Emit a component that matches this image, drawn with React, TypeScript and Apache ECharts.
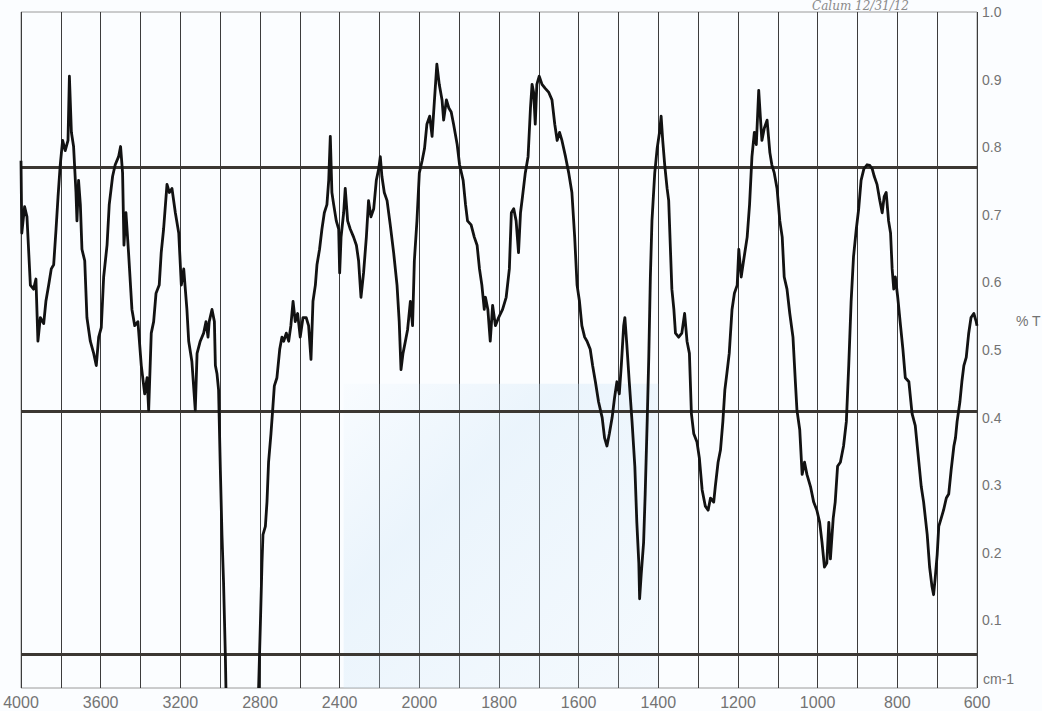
import React, { useEffect, useRef } from 'react';
import * as echarts from 'echarts';

// Wavenumber tick labels (cm-1), scale changes at 2000 cm-1
const xTickLabels = [4000, 3600, 3200, 2800, 2400, 2000, 1800, 1600, 1400, 1200, 1000, 800, 600];

// [wavenumber cm-1, transmittance] — O–H / C–H region (goes off-scale near 2970)
const segHighA: [number, number][] = [
  [4000, 0.78], [3996, 0.673], [3982, 0.712], [3970, 0.697], [3953, 0.596], [3937, 0.59], [3925, 0.605],
  [3915, 0.513], [3903, 0.548], [3886, 0.539], [3875, 0.572], [3861, 0.596], [3848, 0.62], [3836, 0.626],
  [3824, 0.679], [3814, 0.727], [3803, 0.774], [3791, 0.81], [3778, 0.795], [3764, 0.81], [3757, 0.905],
  [3747, 0.822], [3736, 0.801], [3724, 0.733], [3719, 0.691], [3711, 0.751], [3702, 0.715], [3694, 0.649],
  [3680, 0.632], [3669, 0.548], [3652, 0.513], [3635, 0.495], [3622, 0.477], [3610, 0.519], [3597, 0.533],
  [3585, 0.608], [3568, 0.655], [3557, 0.715], [3540, 0.757], [3527, 0.774], [3510, 0.786], [3500, 0.801],
  [3490, 0.762], [3483, 0.655], [3473, 0.703], [3460, 0.644], [3443, 0.56], [3429, 0.536], [3413, 0.542],
  [3396, 0.477], [3379, 0.435], [3367, 0.459], [3359, 0.411], [3346, 0.525], [3334, 0.542], [3322, 0.584],
  [3306, 0.596], [3296, 0.644], [3284, 0.679], [3267, 0.745], [3255, 0.733], [3242, 0.739], [3225, 0.703],
  [3208, 0.673], [3195, 0.596], [3183, 0.62], [3167, 0.56], [3158, 0.513], [3142, 0.483], [3125, 0.411],
  [3116, 0.495], [3100, 0.513], [3083, 0.525], [3071, 0.542], [3061, 0.519], [3055, 0.542], [3041, 0.56],
  [3029, 0.542], [3024, 0.477], [3016, 0.465], [3008, 0.441], [2999, 0.322], [2991, 0.227], [2983, 0.156],
  [2974, 0.049], [2971, 0],
];

// 2807 → 2000 cm-1
const segHighB: [number, number][] = [
  [2807, 0], [2798, 0.096], [2790, 0.185], [2785, 0.227], [2773, 0.239], [2765, 0.275], [2757, 0.334],
  [2745, 0.376], [2735, 0.417], [2728, 0.447], [2715, 0.459], [2701, 0.501], [2690, 0.519], [2681, 0.513],
  [2668, 0.525], [2656, 0.513], [2645, 0.536], [2634, 0.572], [2623, 0.542], [2611, 0.554], [2598, 0.519],
  [2584, 0.548], [2568, 0.548], [2556, 0.536], [2544, 0.486], [2534, 0.572], [2522, 0.596], [2514, 0.626],
  [2501, 0.649], [2489, 0.679], [2477, 0.703], [2464, 0.715], [2455, 0.751], [2447, 0.816], [2439, 0.733],
  [2430, 0.715], [2417, 0.691], [2405, 0.679], [2400, 0.614], [2393, 0.667], [2380, 0.703], [2372, 0.739],
  [2360, 0.691], [2347, 0.679], [2330, 0.667], [2316, 0.655], [2305, 0.632], [2293, 0.578], [2280, 0.614],
  [2266, 0.667], [2255, 0.721], [2243, 0.697], [2229, 0.709], [2216, 0.751], [2204, 0.768], [2196, 0.786],
  [2188, 0.757], [2176, 0.733], [2162, 0.721], [2146, 0.685], [2129, 0.644], [2112, 0.596], [2101, 0.542],
  [2092, 0.471], [2082, 0.495], [2070, 0.513], [2059, 0.53], [2045, 0.572], [2034, 0.536], [2025, 0.632],
  [2012, 0.691], [2000, 0.762],
];

// 1993 → 1222 cm-1
const segMid: [number, number][] = [
  [1993, 0.78], [1987, 0.798], [1981, 0.834], [1974, 0.846], [1968, 0.816], [1962, 0.87], [1956, 0.923],
  [1950, 0.893], [1943, 0.87], [1939, 0.84], [1932, 0.87], [1926, 0.858], [1920, 0.852], [1914, 0.834],
  [1905, 0.804], [1899, 0.774], [1890, 0.751], [1884, 0.715], [1879, 0.691], [1870, 0.685], [1862, 0.667],
  [1855, 0.655], [1849, 0.62], [1843, 0.596], [1837, 0.56], [1834, 0.578], [1828, 0.56], [1822, 0.513],
  [1816, 0.566], [1809, 0.536], [1801, 0.548], [1791, 0.56], [1782, 0.578], [1774, 0.62], [1769, 0.703],
  [1763, 0.709], [1757, 0.691], [1751, 0.644], [1746, 0.703], [1741, 0.727], [1734, 0.762], [1727, 0.786],
  [1721, 0.858], [1717, 0.893], [1713, 0.881], [1709, 0.834], [1705, 0.893], [1699, 0.905], [1692, 0.893],
  [1684, 0.887], [1675, 0.881], [1667, 0.87], [1660, 0.834], [1654, 0.81], [1648, 0.822], [1642, 0.81],
  [1633, 0.786], [1625, 0.762], [1617, 0.733], [1610, 0.667], [1604, 0.596], [1598, 0.572], [1592, 0.536],
  [1585, 0.519], [1579, 0.513], [1571, 0.501], [1565, 0.477], [1558, 0.453], [1550, 0.423], [1541, 0.4],
  [1535, 0.37], [1529, 0.358], [1523, 0.376], [1516, 0.4], [1510, 0.429], [1504, 0.453], [1498, 0.435],
  [1493, 0.477], [1487, 0.536], [1484, 0.548], [1479, 0.507], [1473, 0.453], [1466, 0.394], [1459, 0.328],
  [1454, 0.245], [1449, 0.185], [1447, 0.132], [1443, 0.168], [1437, 0.215], [1433, 0.287], [1428, 0.394],
  [1424, 0.489], [1420, 0.608], [1416, 0.691], [1409, 0.762], [1403, 0.798], [1397, 0.822], [1393, 0.846],
  [1389, 0.81], [1384, 0.774], [1378, 0.739], [1374, 0.721], [1370, 0.655], [1366, 0.59], [1361, 0.56],
  [1357, 0.525], [1349, 0.519], [1341, 0.525], [1334, 0.554], [1328, 0.513], [1322, 0.495], [1317, 0.406],
  [1311, 0.376], [1303, 0.364], [1297, 0.34], [1290, 0.293], [1282, 0.269], [1275, 0.263], [1269, 0.281],
  [1261, 0.275], [1257, 0.298], [1250, 0.334], [1244, 0.352], [1238, 0.394], [1233, 0.441], [1228, 0.465],
  [1222, 0.495],
];

// 1215 → 600 cm-1
const segLow: [number, number][] = [
  [1215, 0.56], [1209, 0.584], [1202, 0.596], [1198, 0.649], [1192, 0.608], [1186, 0.632], [1177, 0.667],
  [1171, 0.715], [1165, 0.786], [1159, 0.822], [1154, 0.804], [1148, 0.884], [1144, 0.846], [1140, 0.81],
  [1134, 0.828], [1127, 0.84], [1120, 0.792], [1115, 0.774], [1109, 0.762], [1102, 0.739], [1095, 0.691],
  [1089, 0.667], [1084, 0.608], [1077, 0.59], [1070, 0.554], [1062, 0.519], [1056, 0.453], [1052, 0.411],
  [1045, 0.382], [1039, 0.316], [1033, 0.334], [1027, 0.316], [1018, 0.298], [1010, 0.275], [1002, 0.263],
  [995, 0.245], [989, 0.215], [983, 0.179], [977, 0.185], [972, 0.245], [968, 0.191], [961, 0.251],
  [956, 0.275], [950, 0.328], [943, 0.334], [935, 0.358], [928, 0.394], [922, 0.477], [916, 0.572],
  [910, 0.638], [903, 0.679], [897, 0.709], [891, 0.751], [884, 0.768], [876, 0.774], [869, 0.773],
  [863, 0.768], [858, 0.757], [851, 0.745], [844, 0.721], [838, 0.703], [833, 0.727], [828, 0.733],
  [822, 0.691], [817, 0.673], [813, 0.62], [809, 0.59], [805, 0.608], [799, 0.578], [792, 0.536],
  [786, 0.501], [780, 0.459], [771, 0.453], [763, 0.406], [755, 0.388], [746, 0.334], [740, 0.298],
  [734, 0.275], [725, 0.227], [719, 0.179], [713, 0.15], [709, 0.138], [705, 0.162], [700, 0.197],
  [696, 0.239], [690, 0.251], [684, 0.263], [677, 0.281], [671, 0.287], [665, 0.322], [658, 0.358],
  [654, 0.37], [650, 0.394], [643, 0.423], [638, 0.453], [633, 0.477], [627, 0.489], [621, 0.524],
  [615, 0.548], [608, 0.554], [602, 0.542], [600, 0.536],
];

// Dark horizontal lines printed on the chart paper (transmittance levels)
const paperLines = [0.766, 0.412, 0.053];

// Faint blue scan tint: wavenumber range and transmittance top
const tintRange = [2380, 1400];
const tintTop = 0.45;

// Piecewise-linear wavenumber scale: 200 cm-1 per division above 2000, 100 cm-1 below
function toU(w: number): number {
  return w >= 2000 ? (4000 - w) / 200 : 10 + (2000 - w) / 100;
}

const toXY = (arr: [number, number][]) => arr.map(([w, t]) => [toU(w), t]);

export default function App() {
  const ref = useRef<HTMLDivElement>(null);

  useEffect(() => {
    document.body.style.margin = '0';
    if (!ref.current) return;
    const chart = echarts.init(ref.current, null, { renderer: 'svg' });

    const lineStyle = { color: '#121212', width: 2.8, join: 'round' };
    const labelGray = '#737373';

    chart.setOption({
      animation: false,
      backgroundColor: '#fbfdff',
      grid: {
        left: 21,
        right: 65,
        top: 12,
        bottom: 23,
        show: true,
        borderColor: '#9a9a9a',
        borderWidth: 1,
        backgroundColor: 'transparent',
      },
      xAxis: {
        type: 'value',
        min: 0,
        max: 24,
        interval: 1,
        axisLine: { show: false },
        axisTick: { show: false },
        splitLine: { show: true, lineStyle: { color: '#3c3c3c', width: 1 } },
        axisLabel: {
          color: labelGray,
          fontSize: 16,
          fontFamily: 'Liberation Sans, Arial, sans-serif',
          margin: 6,
          showMinLabel: true,
          showMaxLabel: true,
          formatter: (u: number) => {
            const r = Math.round(u);
            return r % 2 === 0 ? String(xTickLabels[r / 2]) : '';
          },
        },
      },
      yAxis: {
        type: 'value',
        position: 'right',
        min: 0,
        max: 1,
        interval: 0.1,
        axisLine: { show: false },
        axisTick: { show: false },
        splitLine: { show: false },
        axisLabel: {
          color: labelGray,
          fontSize: 14,
          fontFamily: 'Liberation Sans, Arial, sans-serif',
          margin: 5,
          formatter: (v: number) => (v < 0.05 ? '' : v.toFixed(1)),
        },
      },
      graphic: [
        {
          type: 'text',
          left: 1016,
          top: 314,
          style: { text: '% T', fill: labelGray, fontSize: 14, fontFamily: 'Liberation Sans, Arial, sans-serif' },
        },
        {
          type: 'text',
          left: 983,
          top: 672,
          style: { text: 'cm-1', fill: labelGray, fontSize: 14, fontFamily: 'Liberation Sans, Arial, sans-serif' },
        },
        {
          type: 'text',
          left: 812,
          top: 0,
          style: {
            text: 'Calum 12/31/12',
            fill: '#8a8a8a',
            fontSize: 12,
            fontStyle: 'italic',
            fontFamily: 'DejaVu Serif, serif',
          },
        },
      ],
      series: [
        {
          type: 'line',
          name: 'paper',
          data: [],
          silent: true,
          markLine: {
            silent: true,
            symbol: ['none', 'none'],
            label: { show: false },
            lineStyle: { color: '#3b3732', width: 3, type: 'solid' },
            data: paperLines.map((v) => ({ yAxis: v })),
          },
          markArea: {
            silent: true,
            itemStyle: {
              color: {
                type: 'linear',
                x: 0,
                y: 0,
                x2: 1,
                y2: 1,
                colorStops: [
                  { offset: 0, color: 'rgba(200,226,246,0.05)' },
                  { offset: 0.35, color: 'rgba(200,226,246,0.32)' },
                  { offset: 1, color: 'rgba(200,226,246,0.12)' },
                ],
              },
            },
            data: [[{ xAxis: toU(tintRange[0]), yAxis: 0 }, { xAxis: toU(tintRange[1]), yAxis: tintTop }]],
          },
        },
        {
          type: 'line',
          name: 'T high A',
          data: toXY(segHighA),
          showSymbol: false,
          symbol: 'none',
          lineStyle,
          clip: true,
          z: 5,
        },
        {
          type: 'line',
          name: 'T main',
          data: toXY([...segHighB, ...segMid, ...segLow]),
          showSymbol: false,
          symbol: 'none',
          lineStyle,
          clip: true,
          z: 5,
        },
      ],
    });

    return () => chart.dispose();
  }, []);

  return <div ref={ref} style={{ width: 1042, height: 711 }} />;
}
